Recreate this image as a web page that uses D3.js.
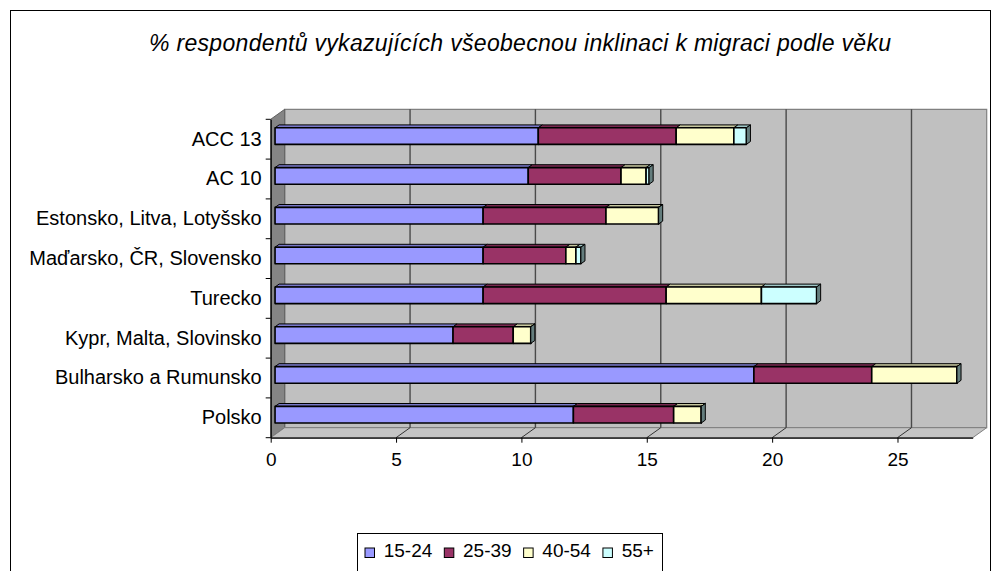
<!DOCTYPE html>
<html>
<head>
<meta charset="utf-8">
<script src="https://cdn.jsdelivr.net/npm/d3@7"></script>
<style>
  body { margin: 0; background: #fff; }
  svg { display: block; font-family: Arial, "Liberation Sans", sans-serif; }
</style>
</head>
<body>
<svg width="997" height="571"></svg>
<script>
// categories from top to bottom
var categories = ["ACC 13", "AC 10", "Estonsko, Litva, Lotyšsko", "Maďarsko, ČR, Slovensko",
    "Turecko", "Kypr, Malta, Slovinsko", "Bulharsko a Rumunsko", "Polsko"];
var seriesNames = ["15-24", "25-39", "40-54", "55+"];
var v1524 = [10.5, 10.1, 8.3, 8.3, 8.3, 7.1, 19.1, 11.9];
var v2539 = [5.5, 3.7, 4.9, 3.3, 7.3, 2.4, 4.7, 4.0];
var v4054 = [2.3, 1.0, 2.1, 0.4, 3.8, 0.7, 3.4, 1.1];
var v55 = [0.5, 0.12, 0.0, 0.2, 2.2, 0.0, 0.0, 0.0];
var xTicks = [0, 5, 10, 15, 20, 25];
var title = "% respondentů vykazujících všeobecnou inklinaci k migraci podle věku";

var colors = ["#9999FF", "#993366", "#FFFFCC", "#CCFFFF"];

// 3D box: front plane + depth offset
var DEPTH_X = 14, DEPTH_Y = -10;
var BAR_T0 = 0.31, BAR_T1 = 0.6;
var front = {left: 270.7, right: 972.7, top: 119.3, bottom: 437.7};

var svg = d3.select("svg");

// chart area border
svg.append("rect")
    .attr("x", 10.5).attr("y", 10.5)
    .attr("width", 980).attr("height", 600)
    .attr("fill", "none").attr("stroke", "#000").attr("stroke-width", 1);

svg.append("text")
    .attr("x", 520).attr("y", 50.5)
    .attr("text-anchor", "middle")
    .attr("font-size", 23).attr("font-style", "italic")
    .attr("textLength", 742).attr("lengthAdjust", "spacing")
    .text(title);

var x = d3.scaleLinear().domain([0, 28]).range([front.left, front.right]);
var y = d3.scaleBand().domain(categories)
    .range([front.top, front.bottom])
    .paddingInner(0.583).paddingOuter(0.2915);

function pt(px, py, t) {
    return [px + DEPTH_X * t, py + DEPTH_Y * t];
}
function poly(points) {
    return points.map(function(p) { return p[0] + "," + p[1]; }).join(" ");
}

var walls = svg.append("g");
// back wall
walls.append("polygon")
    .attr("points", poly([pt(front.left, front.top, 1), pt(front.right, front.top, 1),
        pt(front.right, front.bottom, 1), pt(front.left, front.bottom, 1)]))
    .attr("fill", "#C0C0C0").attr("stroke", "#808080").attr("stroke-width", 1.2);
// left wall
walls.append("polygon")
    .attr("points", poly([[front.left, front.top], pt(front.left, front.top, 1),
        pt(front.left, front.bottom, 1), [front.left, front.bottom]]))
    .attr("fill", "#858585").attr("stroke", "#606060").attr("stroke-width", 1);
// floor
walls.append("polygon")
    .attr("points", poly([[front.left, front.bottom], pt(front.left, front.bottom, 1),
        pt(front.right, front.bottom, 1), [front.right, front.bottom]]))
    .attr("fill", "#C4C4C4").attr("stroke", "#808080").attr("stroke-width", 1);

// gridlines on back wall and floor
var grid = walls.selectAll(".grid")
    .data(xTicks.filter(function(d) { return d > 0; }))
    .enter().append("g");
grid.append("line")
    .attr("x1", function(d) { return x(d) + DEPTH_X; })
    .attr("x2", function(d) { return x(d) + DEPTH_X; })
    .attr("y1", front.top + DEPTH_Y)
    .attr("y2", front.bottom + DEPTH_Y)
    .attr("stroke", "#4a4a4a").attr("stroke-width", 1.4);
grid.append("line")
    .attr("x1", function(d) { return x(d) + DEPTH_X; })
    .attr("x2", function(d) { return x(d); })
    .attr("y1", front.bottom + DEPTH_Y)
    .attr("y2", front.bottom)
    .attr("stroke", "#333").attr("stroke-width", 1);

// stacked bars
var series = [v1524, v2539, v4054, v55];
var stackData = categories.map(function(c, i) {
    var row = {cat: c};
    seriesNames.forEach(function(s, j) { row[s] = series[j][i]; });
    return row;
});
var stacked = d3.stack().keys(seriesNames)(stackData);

var bars = svg.append("g");
categories.forEach(function(c, i) {
    var y0 = y(c), y1 = y(c) + y.bandwidth();
    var g = bars.append("g");
    stacked.forEach(function(layer, j) {
        var a = x(layer[i][0]), b = x(layer[i][1]);
        var col = d3.color(colors[j]);
        g.append("polygon")
            .attr("points", poly([pt(a, y0, BAR_T0), pt(a, y0, BAR_T1), pt(b, y0, BAR_T1), pt(b, y0, BAR_T0)]))
            .attr("fill", col.darker(0.7)).attr("stroke", "#000").attr("stroke-width", 1)
            .attr("stroke-linejoin", "round");
        g.append("polygon")
            .attr("points", poly([pt(a, y0, BAR_T0), pt(b, y0, BAR_T0), pt(b, y1, BAR_T0), pt(a, y1, BAR_T0)]))
            .attr("fill", col).attr("stroke", "#000").attr("stroke-width", 1.6)
            .attr("stroke-linejoin", "round");
        if (j === stacked.length - 1) {
            g.append("polygon")
                .attr("points", poly([pt(b, y0, BAR_T0), pt(b, y0, BAR_T1), pt(b, y1, BAR_T1), pt(b, y1, BAR_T0)]))
                .attr("fill", col.darker(2)).attr("stroke", "#000").attr("stroke-width", 1)
                .attr("stroke-linejoin", "round");
        }
    });
});

// value axis
var xAxis = svg.append("g")
    .attr("transform", "translate(0," + front.bottom + ")")
    .call(d3.axisBottom(x).tickValues(xTicks).tickSize(5).tickSizeOuter(0).tickPadding(10));
xAxis.select(".domain").attr("stroke", "#000").attr("stroke-width", 1.2);
xAxis.selectAll(".tick line").attr("stroke", "#000");
xAxis.selectAll("text").attr("font-size", 19).attr("fill", "#000")
    .attr("font-family", "Arial, 'Liberation Sans', sans-serif");

// category axis
var yAxis = svg.append("g")
    .attr("transform", "translate(" + front.left + ",0)")
    .call(d3.axisLeft(y).tickSize(0).tickPadding(9));
yAxis.select(".domain").attr("stroke", "#000").attr("stroke-width", 1.2);
yAxis.selectAll("text").attr("font-size", 20).attr("fill", "#000")
    .attr("font-family", "Arial, 'Liberation Sans', sans-serif");
svg.append("g").selectAll("line")
    .data(d3.range(categories.length + 1))
    .enter().append("line")
    .attr("x1", front.left - 5).attr("x2", front.left)
    .attr("y1", function(d) { return front.top + d * y.step(); })
    .attr("y2", function(d) { return front.top + d * y.step(); })
    .attr("stroke", "#000");

// legend
var legend = svg.append("g");
legend.append("rect")
    .attr("x", 357.5).attr("y", 533.5)
    .attr("width", 305).attr("height", 40)
    .attr("fill", "#fff").attr("stroke", "#000");
var lx = 365;
seriesNames.forEach(function(s, j) {
    legend.append("rect")
        .attr("x", lx).attr("y", 548)
        .attr("width", 9.5).attr("height", 9.5)
        .attr("fill", colors[j]).attr("stroke", "#000").attr("stroke-width", 1);
    var t = legend.append("text")
        .attr("x", lx + 18.7).attr("y", 557)
        .attr("font-size", 19)
        .text(s);
    lx = lx + 18.7 + t.node().getComputedTextLength() + 12;
});
</script>
</body>
</html>
